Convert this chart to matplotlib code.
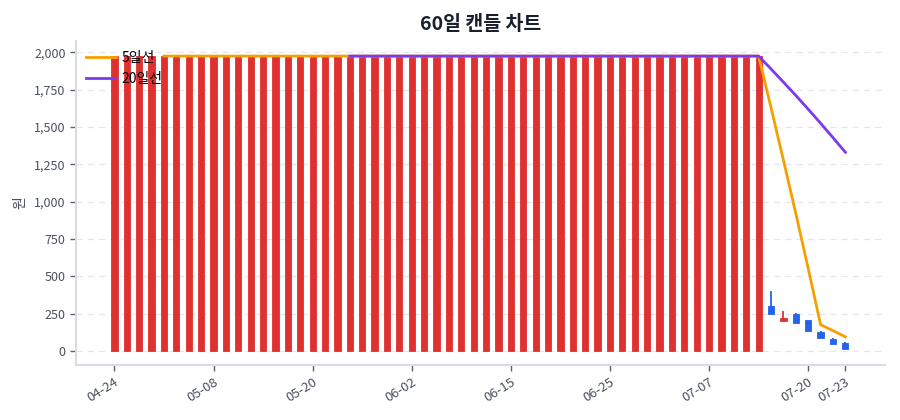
import matplotlib
matplotlib.use("Agg")
import matplotlib.pyplot as plt
import numpy as np
from matplotlib.ticker import FuncFormatter

plt.rcParams['font.family'] = ['Noto Sans CJK KR', 'DejaVu Sans']

# ---- data ----
n_flat = 53
opens = [0] * n_flat + [300, 201, 250, 205, 130, 78, 52]
closes = [1975] * n_flat + [248, 219, 188, 135, 90, 48, 14]
highs = [1975] * n_flat + [404, 268, 252, 205, 132, 88, 62]
lows = [0] * n_flat + [248, 198, 186, 133, 88, 46, 12]

tick_pos = [0, 8, 16, 24, 32, 40, 48, 56, 59]
tick_labels = ["04-24", "05-08", "05-20", "06-02", "06-15", "06-25", "07-07", "07-20", "07-23"]

title = "60일 캔들 차트"
ylabel = "원"
ma_specs = [(5, "5일선", "#f59f00"), (20, "20일선", "#7c3aed")]

UP = "#e03131"
DOWN = "#2563eb"

fig = plt.figure(figsize=(9, 4.2), dpi=100)
ax = fig.add_axes([76/900, 1 - 365/420, (885-76)/900, (365-41)/420])

x = np.arange(len(closes))
o = np.array(opens, float); c = np.array(closes, float)
h = np.array(highs, float); l = np.array(lows, float)
up = c >= o
cols = np.where(up, UP, DOWN)

ax.vlines(x, l, h, colors=cols, linewidth=1.3, zorder=2)
bottom = np.minimum(o, c)
height = np.maximum(np.abs(c - o), 4)
ax.bar(x, height, bottom=bottom, width=0.5, color=cols, edgecolor=cols, linewidth=0.6, zorder=3)

s = np.array(closes, float)
for w, lab, col in ma_specs:
    ma = np.full(len(s), np.nan)
    for i in range(w - 1, len(s)):
        ma[i] = s[i - w + 1:i + 1].mean()
    ax.plot(x, ma, color=col, linewidth=2, label=lab, zorder=4)

ax.set_xlim(-3.1, 62.2)
ax.set_ylim(-94, 2076)
ax.set_yticks([0, 250, 500, 750, 1000, 1250, 1500, 1750, 2000])
ax.yaxis.set_major_formatter(FuncFormatter(lambda v, p: f"{int(v):,}"))
ax.set_xticks(tick_pos)
ax.set_xticklabels(tick_labels, rotation=32, ha="right", rotation_mode="anchor")

ax.grid(axis="y", color="#e5e7eb", linestyle=(0, (5, 4)), linewidth=0.9, zorder=0)
ax.set_axisbelow(True)
for sp in ["top", "right"]:
    ax.spines[sp].set_visible(False)
for sp in ["left", "bottom"]:
    ax.spines[sp].set_color("#d9dce3")
    ax.spines[sp].set_linewidth(1.5)
ax.tick_params(axis="both", colors="#5b6170", labelsize=9, length=4, width=1)
ax.tick_params(axis="x", labelsize=9.5)
ax.tick_params(axis="both", labelcolor="#4a5060")

ax.set_ylabel(ylabel, fontsize=10, color="#4a5060", labelpad=5)
ax.set_title(title, fontsize=14, fontweight="bold", color="#1a1f2e", pad=8)

leg = ax.legend(loc="upper left", frameon=False, fontsize=10, handlelength=2.2,
                borderaxespad=0.3, labelspacing=0.5, handletextpad=0.4,
                bbox_to_anchor=(0.0, 1.0))

fig.savefig("out.png", dpi=100)
